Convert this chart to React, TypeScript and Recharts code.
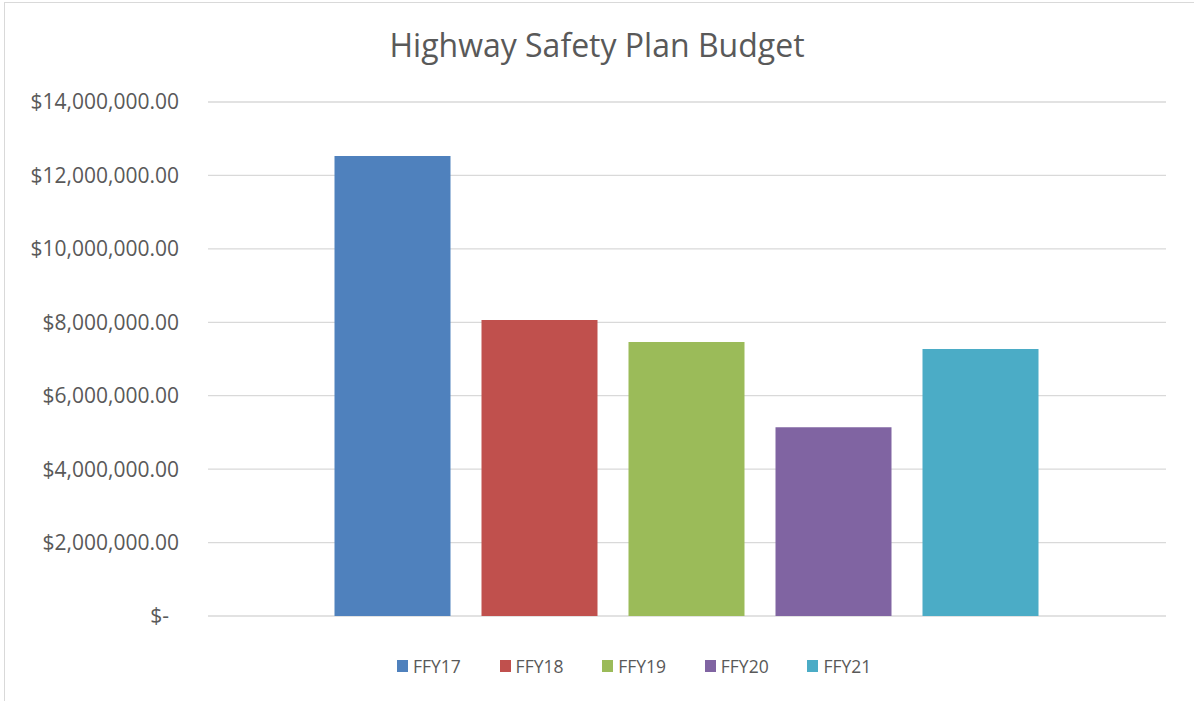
import React from "react";
import { BarChart, Bar, XAxis, YAxis, CartesianGrid, Legend } from "recharts";

const seriesNames = ["FFY17", "FFY18", "FFY19", "FFY20", "FFY21"];
const budgetValues = [12530000, 8060000, 7460000, 5140000, 7270000];
const seriesColors = ["#4F81BD", "#C0504D", "#9BBB59", "#8064A2", "#4BACC6"];
const yTicks = [0, 2000000, 4000000, 6000000, 8000000, 10000000, 12000000, 14000000];

const row: Record<string, string | number> = { name: "Budget" };
seriesNames.forEach((s, i) => {
  row[s] = budgetValues[i];
});
const data = [row];

const FONT = "'Open Sans', 'Noto Sans', sans-serif";
const TEXT = "#595959";

function money(v: number) {
  if (v === 0) return "$-";
  return "$" + v.toLocaleString("en-US", { minimumFractionDigits: 2, maximumFractionDigits: 2 });
}

function YTick(props: any) {
  const { x, y, payload } = props;
  const shift = payload.value === 0 ? -10 : 0;
  return (
    <text x={x + shift} y={y} dy="0.355em" textAnchor="end" fill={TEXT} fontSize={21} fontFamily={FONT}>
      {money(payload.value)}
    </text>
  );
}

function LegendBox() {
  return (
    <div style={{ position: "relative", height: 24 }}>
      {seriesNames.map((s, i) => (
        <div
          key={s}
          style={{
            position: "absolute",
            left: 397 + i * 102.6,
            top: 0,
            display: "flex",
            alignItems: "center",
            fontFamily: FONT,
            fontSize: 17.5,
            color: TEXT,
          }}
        >
          <span style={{ display: "inline-block", width: 11, height: 12, background: seriesColors[i], marginRight: 5 }} />
          <span>{s}</span>
        </div>
      ))}
    </div>
  );
}

export default function App() {
  return (
    <div style={{ position: "absolute", left: 0, top: 0, width: 1194, height: 701, overflow: "hidden", background: "#fff" }}>
      <div
        style={{
          position: "absolute",
          left: 4,
          top: 2,
          width: 1220,
          height: 740,
          border: "1.5px solid #d9d9d9",
          boxSizing: "border-box",
        }}
      />
      <div
        style={{
          position: "absolute",
          left: 0,
          top: 23,
          width: 1194,
          textAlign: "center",
          fontFamily: FONT,
          fontSize: 32,
          color: TEXT,
        }}
      >
        Highway Safety Plan Budget
      </div>
      <div style={{ position: "absolute", left: 0, top: 0 }}>
        <BarChart
          width={1194}
          height={701}
          data={data}
          margin={{ top: 102, right: 28, bottom: 85, left: 0 }}
          barCategoryGap={126.5}
          barGap={31}
        >
          <CartesianGrid vertical={false} stroke="#d9d9d9" strokeWidth={1.3} />
          <XAxis dataKey="name" hide />
          <YAxis
            width={208}
            domain={[0, 14000000]}
            ticks={yTicks}
            axisLine={false}
            tickLine={false}
            tickMargin={23}
            tick={<YTick />}
            interval={0}
          />
          {seriesNames.map((s, i) => (
            <Bar key={s} dataKey={s} fill={seriesColors[i]} isAnimationActive={false} />
          ))}
          <Legend
            verticalAlign="middle"
            align="center"
            layout="horizontal"
            content={<LegendBox />}
            wrapperStyle={{ position: "absolute", top: 654, left: 0, width: 1194 }}
          />
        </BarChart>
      </div>
    </div>
  );
}
